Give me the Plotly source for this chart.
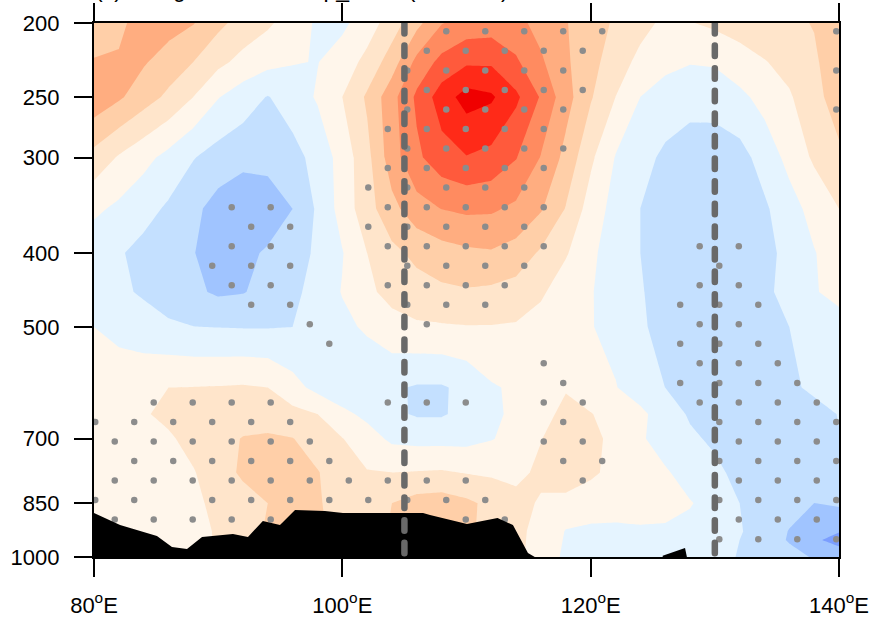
import plotly.graph_objects as go

LON = list(range(80, 142, 2))
PRES = [200, 225, 250, 300, 350, 400, 450, 500, 600, 650, 700, 775, 850, 925, 950, 1000]

R200 = [2.6,2.8,3.4,3.4,3.05,2.25,1.6,1.15,0.55,-0.15,-0.2,0.5,1.5,2.7,3.95,4.4,4.5,4.3,3.65,3.05,2.5,1.85,1.3,0.8,0.95,1.2,1.4,1.6,1.8,2.05,2.3]
R225 = [3.05,3.1,3.1,2.55,2.0,1.25,0.7,0.3,0.05,-0.03,0.45,1.3,2.5,4.3,5.3,5.85,5.85,5.15,4.15,3.15,2.35,1.45,0.75,0.25,0.05,0.1,0.6,0.95,1.3,1.85,2.6]
R250 = [3.7,3.15,2.45,1.8,1.0,0.05,-0.55,-1.05,-0.5,0.1,1.0,2.15,3.65,5.2,6.5,7.4,7.15,6.2,4.9,3.4,2.1,1.0,0.0,-0.4,-0.6,-0.55,-0.25,0.35,0.9,1.6,2.6]
R300 = [1.65,0.9,0.3,-0.3,-0.95,-1.4,-1.6,-1.6,-1.35,-0.65,0.4,1.7,3.55,4.8,5.6,5.95,5.7,5.05,3.95,2.7,1.2,-0.05,-0.65,-1.2,-1.55,-1.6,-1.35,-0.6,0.3,1.15,1.75]
R350 = [0.2,-0.2,-0.65,-1.15,-1.75,-2.4,-3.0,-2.7,-2.0,-0.85,0.4,1.6,2.7,3.6,4.02,4.2,4.15,3.8,3.1,1.95,0.55,-0.35,-1.0,-1.5,-1.8,-1.85,-1.65,-1.15,-0.4,0.35,1.0]
R400 = [-0.6,-0.9,-1.3,-1.65,-1.97,-2.35,-2.3,-1.85,-1.4,-0.85,-0.05,1.0,1.75,2.25,2.6,2.8,2.9,2.6,1.85,1.1,0.2,-0.5,-1.0,-1.5,-1.85,-1.9,-1.7,-1.3,-0.7,-0.05,0.5]
R450 = [-0.55,-0.85,-1.1,-1.45,-1.8,-2.15,-2.05,-1.7,-1.25,-0.6,0.05,0.8,1.3,1.6,1.8,1.9,1.8,1.6,1.15,0.45,0.05,-0.35,-0.9,-1.5,-1.8,-1.85,-1.7,-1.25,-0.6,-0.05,0.2]
R500 = [0.0,-0.4,-0.65,-0.85,-0.98,-1.02,-1.05,-1.05,-1.0,-0.7,-0.25,0.15,0.65,0.85,0.9,0.95,0.95,0.9,0.6,0.35,0.05,-0.3,-0.85,-1.35,-1.65,-1.75,-1.65,-1.4,-1.0,-0.55,-0.27]
R600 = [0.98,0.8,0.85,1.0,1.02,1.05,1.1,1.0,0.35,-0.3,-0.7,-0.8,-0.85,-1.1,-1.1,-0.75,-0.1,0.15,0.55,0.9,0.4,0.05,-0.55,-1.0,-1.35,-1.65,-1.6,-1.45,-1.25,-0.75,-0.5]
R650 = [0.85,0.75,0.9,1.25,1.4,1.5,1.55,1.5,1.3,1.0,0.25,-0.25,-0.8,-1.1,-1.1,-0.7,-0.25,0.25,0.55,1.35,1.05,0.55,0.25,-0.55,-1.1,-1.5,-1.7,-1.8,-1.75,-1.45,-0.95]
R700 = [0.75,0.7,0.75,0.85,1.35,1.65,2.05,2.15,2.03,1.55,1.03,0.45,-0.2,-0.3,-0.3,-0.3,-0.05,0.3,0.97,1.45,1.2,0.8,0.12,-0.4,-0.85,-1.15,-1.5,-1.6,-1.7,-1.6,-1.05]
R775 = [0.55,0.6,0.65,0.8,0.93,1.6,2.15,2.5,2.6,2.05,1.5,1.05,1.0,1.05,1.1,0.95,0.85,0.75,1.2,1.6,1.15,0.75,0.55,0.1,-0.35,-0.8,-1.25,-1.45,-1.55,-1.6,-1.55]
R850 = [0.5,0.5,0.55,0.6,0.75,1.3,1.65,2.0,2.5,2.1,1.6,1.4,2.0,2.4,2.5,2.2,1.75,1.3,0.9,0.7,0.55,0.45,0.35,0.25,0.05,-0.3,-1.0,-1.25,-1.5,-2.0,-1.85]
R925 = [0.4,0.45,0.5,0.6,0.7,1.1,1.6,2.1,2.4,2.2,1.6,1.6,2.1,2.5,2.5,2.3,1.5,1.15,0.8,-0.05,-0.2,-0.2,-0.1,-0.1,-0.2,-0.5,-0.95,-1.3,-2.05,-2.5,-2.95]
R950 = [0.4,0.45,0.5,0.65,0.7,1.1,1.6,2.1,2.4,2.2,1.6,1.6,2.1,2.5,2.5,2.3,1.5,1.2,0.7,-0.1,-0.3,-0.3,-0.35,-0.35,-0.4,-0.6,-1.0,-1.4,-2.1,-2.86,-3.3]
R1000 = [0.3,0.4,0.5,0.65,0.7,1.1,1.6,2.1,2.4,2.2,1.6,1.6,2.1,2.5,2.5,2.3,1.5,1.2,0.6,-0.2,-0.35,-0.45,-0.5,-0.5,-0.55,-0.75,-1.05,-1.35,-1.6,-2.1,-2.5]

BAND_COLORS = ["#7B9EFF","#A0C4FF","#C4E0FF","#E5F4FF","#FFF6EB","#FFE5CB","#FFCFA8","#FFAD80","#FF8B60","#FF5A3C","#FF2A18","#F00000"]

EVEN_LONS = [80.10,83.24,86.38,89.52,92.66,95.80,98.95,102.09,105.23,108.37,111.51,114.65,117.79,120.93,124.07,127.21,130.36,133.50,136.64,139.78]
ODD_LONS = [81.67,84.81,87.95,91.09,94.23,97.38,100.52,103.66,106.80,109.94,113.08,116.22,119.36,122.50,125.64,128.78,131.93,135.07,138.21]
STIP_P = [205.1,217.5,230.7,244.7,259.5,275.3,292.0,309.7,328.4,348.4,369.5,391.9,415.7,440.9,467.6,495.9,526.0,557.9,591.7,627.6,665.6,706.0,748.8,794.2,842.3,893.4,947.6]
STIP_IDX = [
    [9,10,11,12,13,19],
    [8,9,10,11,12],
    [8,9,10,11,12,19],
    [8,9,10,11,12],
    [8,9,10,11,12,19],
    [7,8,9,10,11],
    [8,9,10,11,12],
    [7,8,9,10,11],
    [7,8,9,10,11],
    [3,4,7,8,9,10,11],
    [4,5,7,8,9,10,11],
    [3,4,7,8,9,10,11,15,16],
    [3,4,5,8,9,10,11,16],
    [3,4,7,8,9,10,15,16],
    [4,5,8,9,10,15,16,17],
    [5,8,15,16],
    [6,15,16,17],
    [11,15,16,17],
    [12,15,16,17,18],
    [1,2,3,4,7,8,9,11,12,15,16,17,18],
    [0,1,2,3,4,5,12,16,17,18,19],
    [0,1,2,3,4,5,11,12,16,17,18],
    [1,2,3,4,5,6,12,13,16,17,18,19],
    [0,1,2,3,4,5,6,7,8,9,12,16,17,18],
    [0,1,3,4,5,6,7,8,9,10,16,17,18,19],
    [0,1,2,3,4,9,10,16,17,18],
    [16,17,18,19],
]

TERRAIN_LON = [80,82.1,83.7,85.07,86.28,87.49,88.7,91.19,92.4,93.6,94.98,96.19,98.6,100.05,104,106.5,107.06,110.04,112.5,113.74,114.95,115.35,115.5]
TERRAIN_P = [875.8,908,924.5,938.7,970.2,976.2,941.6,932.9,941.6,897,908,867.9,870.4,875.8,875.8,875.8,881,905.2,889,908,988,996.6,1000]
TERRAIN2_LON = [125.8,127.6,127.75]
TERRAIN2_P = [996.6,973.3,1000]

REF_LONS = [105, 130]
X_TICKS = [80, 100, 120, 140]
X_LABELS = ["80<sup>o</sup>E", "100<sup>o</sup>E", "120<sup>o</sup>E", "140<sup>o</sup>E"]
Y_TICKS = [200, 250, 300, 400, 500, 700, 850, 1000]
Y_LABELS = ["200", "250", "300", "400", "500", "700", "850", "1000"]
TITLE = "(c) Along 25-30N, Temp_trend (10-5 K/s)"

Z = [R200,R225,R250,R300,R350,R400,R450,R500,R600,R650,R700,R775,R850,R925,R950,R1000]
FONT = "Liberation Sans"

fig = go.Figure()
n = len(BAND_COLORS) - 1
fig.add_trace(go.Contour(
    x=LON, y=PRES, z=Z,
    colorscale=[[i / n, c] for i, c in enumerate(BAND_COLORS)],
    autocontour=False,
    contours=dict(start=-3, end=7, size=1, coloring="fill", showlines=False),
    line=dict(width=0, smoothing=0),
    showscale=False, hoverinfo="skip",
))

sx, sy = [], []
for k, (p, idx) in enumerate(zip(STIP_P, STIP_IDX)):
    lons = EVEN_LONS if k % 2 == 0 else ODD_LONS
    for j in idx:
        sx.append(lons[j])
        sy.append(p)
fig.add_trace(go.Scatter(x=sx, y=sy, mode="markers",
                         marker=dict(size=6.5, color="#8C8C8C", line=dict(width=0)),
                         hoverinfo="skip", cliponaxis=True))

for lons, ps in ((TERRAIN_LON, TERRAIN_P), (TERRAIN2_LON, TERRAIN2_P)):
    fig.add_trace(go.Scatter(x=[lons[0]] + lons, y=[1000] + ps, mode="lines", fill="toself",
                             fillcolor="black", line=dict(width=0, color="black"), hoverinfo="skip"))

for lon in REF_LONS:
    fig.add_trace(go.Scatter(x=[lon, lon], y=[200, 1000], mode="lines",
                             line=dict(color="#696969", width=6.5, dash="10.5px,12.1px"),
                             hoverinfo="skip"))

fig.update_layout(
    width=872, height=617, autosize=False, showlegend=False,
    margin=dict(l=94, r=33, t=23, b=60, pad=0),
    paper_bgcolor="white", plot_bgcolor="white",
    font=dict(family=FONT, size=22, color="black"),
    annotations=[dict(text=TITLE, xref="paper", yref="paper", x=0.0, y=1.0, xanchor="left", yanchor="bottom",
                      yshift=20, showarrow=False, font=dict(family=FONT, size=23, color="black"), borderpad=0)],
)
fig.update_xaxes(range=[80, 140], tickvals=X_TICKS, ticktext=X_LABELS, ticks="outside", ticklen=18, tickwidth=2,
                 tickcolor="black", showline=True, linewidth=2.3, linecolor="black", mirror="ticks",
                 showgrid=False, zeroline=False, ticklabelstandoff=9, layer="above traces", automargin=False)
fig.update_yaxes(type="log", range=[3, 2.30103], tickvals=Y_TICKS, ticktext=Y_LABELS, ticks="outside", ticklen=18, tickwidth=2,
                 tickcolor="black", showline=True, linewidth=2.3, linecolor="black", mirror=True,
                 showgrid=False, zeroline=False, ticklabelstandoff=10, layer="above traces", automargin=False)

post = """
document.body.style.margin='0';
document.querySelectorAll('.scatterlayer .trace .js-line').forEach(function(p){
  if((p.style.strokeDasharray||'').indexOf('10.5')>=0){p.style.strokeLinecap='round';}
});
"""
fig.write_html("out.html", post_script=post, config=dict(displayModeBar=False))
